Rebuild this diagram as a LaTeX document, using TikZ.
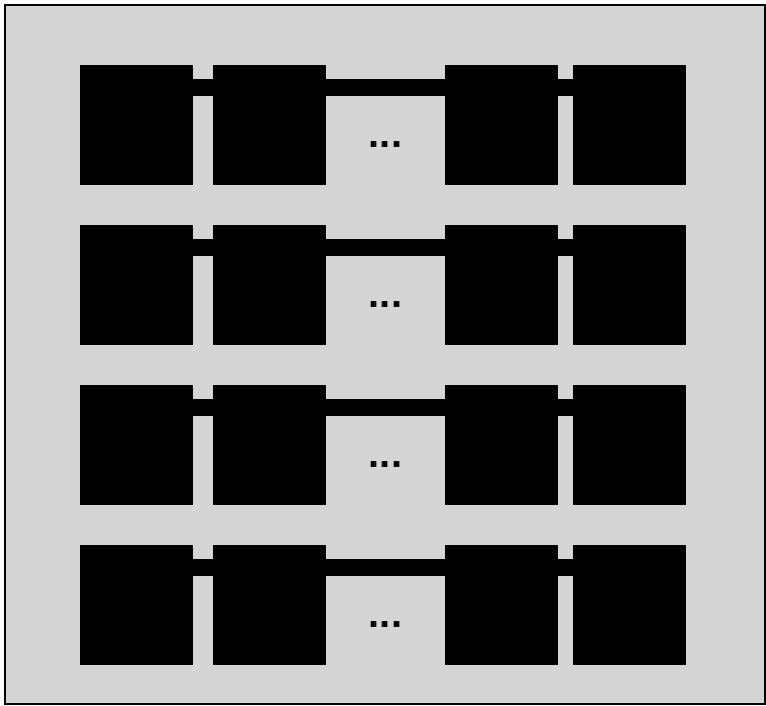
\documentclass[tikz,border=0pt]{standalone}
\usepackage{fontspec}
\setmainfont{Liberation Sans}
\usetikzlibrary{positioning, calc}
\definecolor{bggray}{RGB}{213,213,213}
\definecolor{mydark}{RGB}{0,0,0}
\tikzset{
  cell/.style={rectangle, draw=none, fill=mydark,
    minimum width=113pt, minimum height=120pt, inner sep=0pt, outer sep=0pt},
  bar/.style={line width=16.5pt, color=mydark},
  dots/.style={font=\fontsize{40}{40}\selectfont\bfseries, inner sep=0pt, anchor=base}
}
\begin{document}
\begin{tikzpicture}[x=1pt, y=-1pt]
  \useasboundingbox (0,0) rectangle (766,705);
  % Frame
  \draw[fill=bggray, line width=2pt] (4.5,4.5) rectangle (764.5,703.5);

  % Rows of cells
  \foreach \r/\yy in {1/125, 2/285, 3/445, 4/605} {
    \node[cell] (c\r-a) at (136.5,\yy) {};
    \node[cell, right=20pt of c\r-a] (c\r-b) {};
    \node[cell, right=119pt of c\r-b] (c\r-c) {};
    \node[cell, right=15pt of c\r-c] (c\r-d) {};

    % Links between cells
    \draw[bar] ([yshift=37.5pt]c\r-a.east) -- ([yshift=37.5pt]c\r-b.west);
    \draw[bar] ([yshift=37.5pt]c\r-b.east) -- ([yshift=37.5pt]c\r-c.west);
    \draw[bar] ([yshift=37.5pt]c\r-c.east) -- ([yshift=37.5pt]c\r-d.west);

    % Ellipsis
    \node[dots] (gap\r) at (385.5,\yy+22) {...};
  }
\end{tikzpicture}
\end{document}
